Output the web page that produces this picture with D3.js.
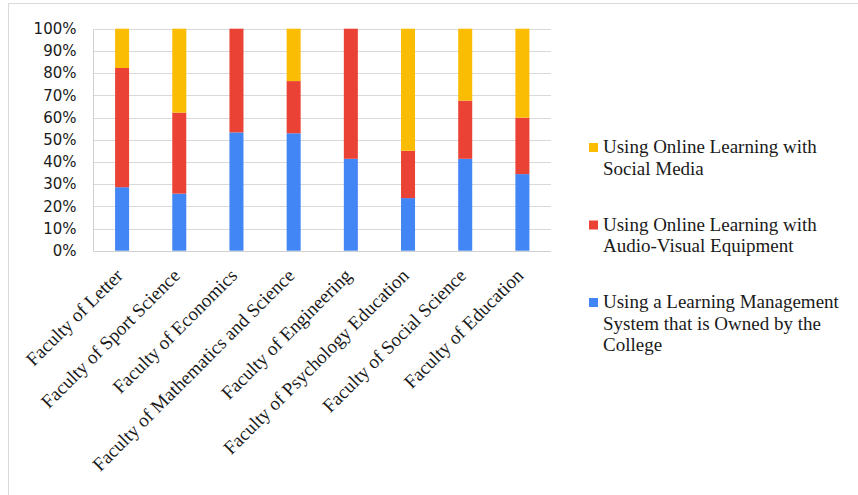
<!DOCTYPE html>
<html>
<head>
<meta charset="utf-8">
<script src="https://cdn.jsdelivr.net/npm/d3@7"></script>
<style>
  html, body { margin: 0; padding: 0; background: #fff; }
  svg { display: block; }
</style>
</head>
<body>
<svg id="chart" width="858" height="495"></svg>
<script>
const categories = [
  "Faculty of Letter",
  "Faculty of Sport Science",
  "Faculty of Economics",
  "Faculty of Mathematics and Science",
  "Faculty of Engineering",
  "Faculty of Psychology Education",
  "Faculty of Social Science",
  "Faculty of Education"
];
// percent shares per faculty (stack bottom -> top)
const lmsValues        = [28.6, 25.7, 53.3, 52.9, 41.4, 23.7, 41.4, 34.5];
const audioVisualVals  = [53.7, 36.5, 46.7, 23.5, 58.6, 21.3, 26.2, 25.4];
const socialMediaVals  = [17.7, 37.8, 0.0, 23.6, 0.0, 55.0, 32.4, 40.1];
const seriesNames = [
  "Using a Learning Management System that is Owned by the College",
  "Using Online Learning with Audio-Visual Equipment",
  "Using Online Learning with Social Media"
];
const legendLines = [
  ["Using a Learning Management", "System that is Owned by the", "College"],
  ["Using Online Learning with", "Audio-Visual Equipment"],
  ["Using Online Learning with", "Social Media"]
];
const yTicks = [0, 10, 20, 30, 40, 50, 60, 70, 80, 90, 100];
const colors = ["#4285F4", "#EA4335", "#FBBC04"];

const svg = d3.select("#chart");

// outer frame
svg.append("path")
  .attr("d", "M8.5,495 L8.5,3.5 L858,3.5")
  .attr("fill", "none").attr("stroke", "#dadada").attr("stroke-width", 1);

const plot = { left: 93.5, right: 551, top: 28.7, bottom: 250.7 };

const x = d3.scaleBand().domain(categories)
  .range([plot.left, plot.right])
  .paddingInner(0.755).paddingOuter(0.3775);
const y = d3.scaleLinear().domain([0, 100]).range([plot.bottom, plot.top]);

// gridlines
svg.append("g").selectAll("line").data(yTicks).join("line")
  .attr("x1", plot.left).attr("x2", plot.right)
  .attr("y1", d => Math.round(y(d)) + 0.5).attr("y2", d => Math.round(y(d)) + 0.5)
  .attr("stroke", "#d9d9d9").attr("stroke-width", 1);

// y axis line
svg.append("line")
  .attr("x1", plot.left).attr("x2", plot.left)
  .attr("y1", Math.round(y(100)) + 0.5).attr("y2", Math.round(y(0)) + 0.5)
  .attr("stroke", "#d0d0d0");

// y labels
const yAxis = d3.axisLeft(y).tickValues(yTicks).tickFormat(d => d + "%").tickSize(0).tickPadding(17);
const gy = svg.append("g").attr("transform", `translate(${plot.left},0)`).call(yAxis);
gy.select(".domain").remove();
gy.selectAll("text")
  .attr("font-family", "'DejaVu Sans', Verdana, sans-serif")
  .attr("font-size", 15).attr("fill", "#1a1a1a");

// stacked bars
const rows = categories.map((c, i) => ({ cat: c, s0: lmsValues[i], s1: audioVisualVals[i], s2: socialMediaVals[i] }));
const stack = d3.stack().keys(["s0", "s1", "s2"]);
const stacked = stack(rows);

svg.append("g").selectAll("g").data(stacked).join("g")
  .attr("fill", (d, i) => colors[i])
  .selectAll("rect").data(d => d).join("rect")
  .attr("x", d => x(d.data.cat))
  .attr("width", x.bandwidth())
  .attr("y", d => y(d[1]))
  .attr("height", d => y(d[0]) - y(d[1]));

// x axis baseline
svg.append("line")
  .attr("x1", plot.left).attr("x2", plot.right)
  .attr("y1", Math.round(y(0)) + 0.5).attr("y2", Math.round(y(0)) + 0.5)
  .attr("stroke", "#d0d0d0");

// x labels
const xAxis = d3.axisBottom(x).tickSize(0).tickPadding(0);
const gx = svg.append("g").attr("transform", `translate(0,${plot.bottom})`).call(xAxis);
gx.select(".domain").remove();
gx.selectAll(".tick text")
  .attr("font-family", "'Liberation Serif', 'Times New Roman', serif")
  .attr("font-size", 19).attr("fill", "#1a1a1a")
  .attr("text-anchor", "end")
  .attr("dy", null).attr("y", null)
  .attr("transform", "translate(2,26) rotate(-45)");

// legend
const legendOrder = [2, 1, 0];
const lg = svg.append("g").attr("transform", "translate(589,0)");
legendOrder.forEach((si, k) => {
  const baseY = 153 + k * 77.5;
  const g = lg.append("g");
  g.append("rect").attr("x", 0).attr("y", baseY - 10).attr("width", 9).attr("height", 9).attr("fill", colors[si]);
  const t = g.append("text")
    .attr("font-family", "'Liberation Serif', 'Times New Roman', serif")
    .attr("font-size", 19).attr("fill", "#1a1a1a");
  legendLines[si].forEach((ln, j) => {
    t.append("tspan").attr("x", 14).attr("y", baseY + j * 21.7).text(ln);
  });
});
</script>
</body>
</html>
